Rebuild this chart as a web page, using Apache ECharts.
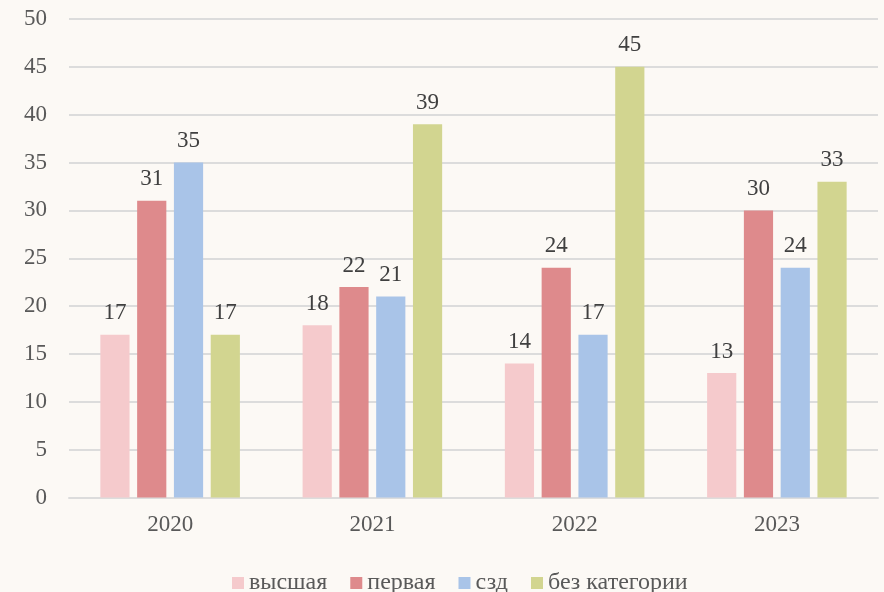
<!DOCTYPE html>
<html>
<head>
<meta charset="utf-8">
<script src="https://cdn.jsdelivr.net/npm/echarts@6/dist/echarts.min.js"></script>
<style>
  html, body { margin: 0; padding: 0; background: #fcf9f5; }
  #chart { width: 884px; height: 592px; }
</style>
</head>
<body>
<div id="chart"></div>
<script>
// годы и значения по категориям
const years = ['2020', '2021', '2022', '2023'];
const vysshaya = [17, 18, 14, 13];
const pervaya = [31, 22, 24, 30];
const szd = [35, 21, 17, 24];
const bezKategorii = [17, 39, 45, 33];

const seriesNames = ['высшая', 'первая', 'сзд', 'без категории'];
const seriesColors = ['#f5cacc', '#de8a8c', '#a9c4e8', '#d2d590'];
const seriesData = [vysshaya, pervaya, szd, bezKategorii];

const font = '"Liberation Serif", serif';
const textColor = '#595959';
const fs = 23;

const chart = echarts.init(document.getElementById('chart'), null, { renderer: 'canvas' });

chart.setOption({
  backgroundColor: '#fcf9f5',
  animation: false,
  textStyle: { fontFamily: font, color: textColor },
  grid: { left: 69, right: 6, top: 19, bottom: 94.5, containLabel: false },
  legend: {
    data: seriesNames,
    top: 566,
    left: 227,
    icon: 'rect',
    itemWidth: 12,
    itemHeight: 12,
    itemGap: 23,
    textStyle: { fontFamily: font, fontSize: 24, color: textColor }
  },
  xAxis: {
    type: 'category',
    data: years,
    axisLine: { lineStyle: { color: '#dcdcdc', width: 2 } },
    axisTick: { show: false },
    axisLabel: { fontFamily: font, fontSize: fs, color: textColor, margin: 16 }
  },
  yAxis: {
    type: 'value',
    min: 0,
    max: 50,
    interval: 5,
    axisLine: { show: false },
    axisTick: { show: false },
    splitLine: { lineStyle: { color: '#dcdcdc', width: 2 } },
    axisLabel: { fontFamily: font, fontSize: fs, color: textColor, margin: 22 }
  },
  series: seriesNames.map((name, i) => ({
    name: name,
    type: 'bar',
    data: seriesData[i],
    barGap: '26%',
    barCategoryGap: '31%',
    itemStyle: { color: seriesColors[i] },
    label: {
      show: true,
      position: 'top',
      distance: 10,
      fontFamily: font,
      fontSize: fs,
      color: '#404040'
    }
  }))
});
</script>
</body>
</html>
